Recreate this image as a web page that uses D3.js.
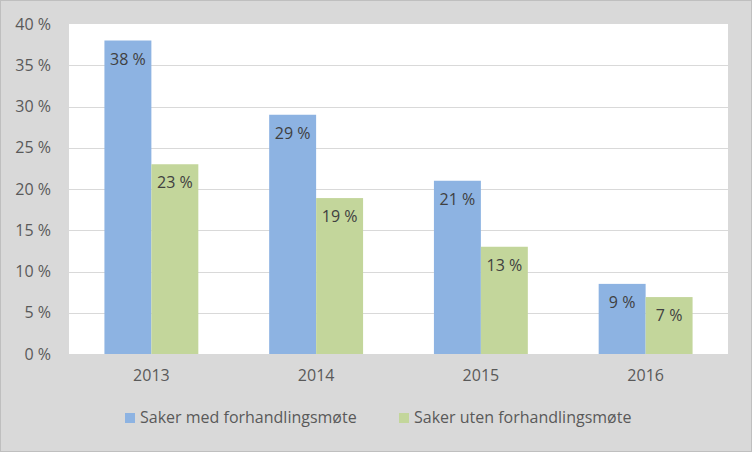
<!DOCTYPE html>
<html>
    <head>
        <meta charset="utf-8" />
        <style>
            body{ margin: 0; }
            svg{ display: block; }
            text{ font-family: "Open Sans", sans-serif; }
        </style>
    </head>
    <body>
        <svg id="chart" width="752" height="452"></svg>
        <script src="https://cdnjs.cloudflare.com/ajax/libs/d3/7.8.5/d3.min.js"></script>
        <script>
            var years = ['2013', '2014', '2015', '2016'];
            var seriesNames = ['Saker med forhandlingsmøte', 'Saker uten forhandlingsmøte'];
            var medMote = [38, 29, 21, 8.5];
            var utenMote = [23, 18.9, 13, 6.9];
            var medLabels = ['38 %', '29 %', '21 %', '9 %'];
            var utenLabels = ['23 %', '19 %', '13 %', '7 %'];
            var yTicks = [0, 5, 10, 15, 20, 25, 30, 35, 40];
            var colors = ['#8db3e2', '#c3d69b'];

            var width = 752, height = 452;
            var plot = {left: 69, right: 728, top: 24, bottom: 354};

            var svg = d3.select('#chart');

            svg.append('rect')
                .attr('width', width).attr('height', height)
                .attr('fill', '#d9d9d9');
            svg.append('rect')
                .attr('x', 0.5).attr('y', 0.5)
                .attr('width', width - 1).attr('height', height - 1)
                .attr('fill', 'none').attr('stroke', '#bfbfbf');

            svg.append('rect')
                .attr('x', plot.left).attr('y', plot.top)
                .attr('width', plot.right - plot.left)
                .attr('height', plot.bottom - plot.top)
                .attr('fill', '#ffffff');

            var x = d3.scaleBand().domain(years).range([plot.left, plot.right]).paddingInner(0.43).paddingOuter(0.215);
            var xInner = d3.scaleBand().domain([0, 1]).range([0, x.bandwidth()]);
            var y = d3.scaleLinear().domain([0, 40]).range([plot.bottom, plot.top]);

            // gridlines
            svg.append('g').selectAll('line')
                .data(yTicks.filter(function(d){ return d > 0 && d < 40; }))
                .enter().append('line')
                .attr('x1', plot.left).attr('x2', plot.right)
                .attr('y1', function(d){ return Math.round(y(d)) + 0.5; })
                .attr('y2', function(d){ return Math.round(y(d)) + 0.5; })
                .attr('stroke', '#d9d9d9');

            var yAxis = svg.append('g')
                .attr('transform', 'translate(' + (plot.left - 18) + ',0)')
                .call(d3.axisLeft(y).tickValues(yTicks).tickSize(0).tickPadding(0)
                    .tickFormat(function(d){ return d + ' %'; }));
            yAxis.select('.domain').remove();
            yAxis.selectAll('text').attr('fill', '#595959').style('font-size', '16px');

            var xAxis = svg.append('g')
                .attr('transform', 'translate(0,' + (plot.bottom + 16) + ')')
                .call(d3.axisBottom(x).tickSize(0).tickPadding(0));
            xAxis.select('.domain').remove();
            xAxis.selectAll('text').attr('fill', '#595959').style('font-size', '16px');

            var rows = years.map(function(yr, i){
                return {year: yr, values: [
                    {s: 0, v: medMote[i], label: medLabels[i]},
                    {s: 1, v: utenMote[i], label: utenLabels[i]}
                ]};
            });

            var groups = svg.append('g').selectAll('.group')
                .data(rows)
                .enter().append('g')
                .attr('class', 'group')
                .attr('transform', function(d){ return 'translate(' + x(d.year) + ',0)'; });

            groups.selectAll('rect')
                .data(function(d){ return d.values; })
                .enter().append('rect')
                .attr('x', function(d){ return xInner(d.s); })
                .attr('width', xInner.bandwidth())
                .attr('y', function(d){ return y(d.v); })
                .attr('height', function(d){ return plot.bottom - y(d.v); })
                .attr('fill', function(d){ return colors[d.s]; });

            groups.selectAll('.value')
                .data(function(d){ return d.values; })
                .enter().append('text')
                .attr('class', 'value')
                .attr('x', function(d){ return xInner(d.s) + xInner.bandwidth() / 2; })
                .attr('y', function(d){ return y(d.v) + 24; })
                .attr('text-anchor', 'middle')
                .attr('fill', '#404040')
                .style('font-size', '16px')
                .text(function(d){ return d.label; });

            var legendX = [125, 399];
            var legend = svg.append('g').selectAll('.legend')
                .data(seriesNames)
                .enter().append('g')
                .attr('class', 'legend')
                .attr('transform', function(d, i){ return 'translate(' + legendX[i] + ',413)'; });
            legend.append('rect')
                .attr('width', 10).attr('height', 10)
                .attr('fill', function(d, i){ return colors[i]; });
            legend.append('text')
                .attr('x', 15).attr('y', 10)
                .attr('fill', '#595959')
                .style('font-size', '16px')
                .text(function(d){ return d; });
        </script>
    </body>
</html>
